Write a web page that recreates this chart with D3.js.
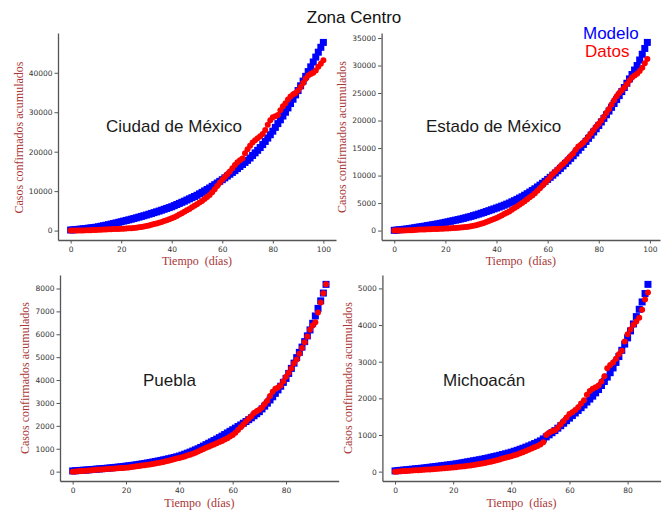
<!DOCTYPE html>
<html><head><meta charset="utf-8">
<script src="https://cdn.jsdelivr.net/npm/d3@7"></script>
<style>
html,body{margin:0;padding:0;background:#fff;}
svg{display:block;}
</style></head><body>
<svg id="chart" width="666" height="511"></svg>
<script>
// Casos confirmados acumulados por día: modelo ajustado vs. datos observados
const cdmxModelo = [
  150,200,260,320,380,450,530,610,690,770,
  850,970,1100,1230,1360,1500,1650,1800,1950,2100,
  2250,2410,2570,2730,2890,3050,3230,3410,3590,3770,
  3950,4150,4350,4550,4750,4950,5170,5390,5610,5830,
  6050,6330,6610,6890,7170,7450,7750,8050,8350,8650,
  8950,9320,9690,10060,10430,10800,11220,11640,12060,12480,
  12900,13360,13820,14280,14740,15200,15720,16240,16760,17280,
  17800,18400,19050,19700,20350,21050,21800,22600,23450,24300,
  25200,26160,27120,28080,29040,30000,31100,32200,33300,34400,
  35500,36700,37900,39100,40300,41500,42740,43980,45220,46460,
  47700];
const cdmxDatos = [
  0,5,10,20,30,45,60,80,100,130,
  170,200,230,260,290,320,350,380,400,420,
  440,480,520,570,620,680,750,830,920,1040,
  1180,1320,1480,1650,1820,2000,2200,2400,2620,2850,
  3100,3400,3700,4050,4400,4800,5150,5500,5900,6300,
  6700,7100,7500,8000,8500,9000,9700,10500,11300,12100,
  12900,13600,14300,15000,15800,16600,17300,17800,18300,19600,
  20600,21500,22300,22900,23400,23900,24500,25500,26800,28000,
  28700,29000,29300,30500,31500,32300,33200,34000,34500,34900,
  35500,36400,37400,38500,39300,39700,40000,40600,41500,42300,
  43200];

const edomexModelo = [
  50,100,150,200,250,300,370,440,520,600,
  670,740,820,900,980,1060,1140,1220,1310,1400,
  1500,1600,1700,1800,1900,2000,2110,2220,2340,2460,
  2580,2720,2860,3000,3150,3300,3460,3620,3780,3940,
  4100,4270,4440,4620,4810,5000,5220,5440,5670,5910,
  6150,6430,6710,7000,7300,7600,7930,8260,8600,8950,
  9300,9680,10070,10470,10880,11300,11750,12200,12660,13130,
  13600,14100,14610,15130,15660,16200,16770,17340,17920,18510,
  19100,19740,20390,21050,21720,22400,23100,23810,24530,25260,
  26000,26780,27570,28370,29180,30000,31000,32050,33100,34200];
const edomexDatos = [
  0,5,10,20,30,45,60,80,110,140,
  180,200,220,240,260,270,290,300,320,340,
  360,390,420,450,490,530,570,610,660,720,
  780,880,990,1120,1250,1400,1560,1740,1930,2100,
  2290,2500,2750,3000,3250,3490,3800,4100,4400,4700,
  5000,5350,5700,6050,6400,6800,7250,7700,8200,8700,
  9200,9750,10300,10750,11200,11700,12100,12550,13050,13550,
  14000,14700,15300,15600,16000,16500,17100,17700,18300,18900,
  19400,20000,20700,21400,22100,22900,23700,24400,25000,25500,
  26000,26600,27300,27800,28200,28500,29000,29600,30400,31200];

const pueblaModelo = [
  30,38,46,54,62,70,80,90,100,110,
  120,130,140,150,162,174,186,198,210,225,
  240,255,270,285,302,320,338,357,377,398,
  420,442,465,488,512,537,563,590,618,648,
  680,720,762,806,852,900,950,1000,1055,1115,
  1180,1240,1300,1360,1420,1485,1550,1620,1690,1760,
  1830,1900,1970,2040,2115,2190,2270,2350,2440,2530,
  2620,2740,2860,2990,3130,3270,3420,3570,3730,3900,
  4070,4290,4510,4740,4980,5210,5440,5680,5930,6190,
  6480,6800,7130,7460,7800,8180];
const pueblaDatos = [
  0,8,16,24,32,40,50,60,70,80,
  90,98,106,114,122,130,138,146,154,162,
  170,185,200,215,232,250,265,280,297,313,
  330,352,375,400,425,450,480,510,540,570,
  600,630,665,700,740,780,830,880,930,985,
  1040,1090,1140,1190,1240,1290,1340,1400,1460,1530,
  1600,1700,1820,1940,2060,2190,2310,2420,2560,2640,
  2700,2800,2950,3100,3300,3490,3620,3680,3760,3950,
  4140,4320,4520,4730,4900,5150,5400,5650,5900,6200,
  6380,6520,6950,7390,7790,8180];

const michModelo = [
  20,28,36,44,52,60,68,76,84,92,
  100,110,120,130,140,150,160,170,180,190,
  200,213,226,240,254,268,282,296,310,325,
  340,357,374,392,410,428,447,467,487,508,
  530,556,582,610,638,668,700,732,766,802,
  840,893,948,1004,1062,1120,1186,1253,1320,1390,
  1460,1530,1600,1670,1745,1820,1900,1980,2060,2150,
  2240,2350,2460,2580,2700,2830,2980,3140,3310,3480,
  3650,3840,4030,4230,4430,4630,4860,5110];
const michDatos = [
  0,5,10,15,20,25,30,35,40,45,
  50,55,60,66,72,78,84,90,96,103,
  110,120,130,140,150,160,170,182,194,207,
  220,236,254,272,292,312,334,356,378,400,
  420,445,470,500,530,560,595,630,665,700,
  740,800,1000,1060,1100,1130,1200,1290,1380,1480,
  1570,1620,1680,1760,1860,1950,2100,2200,2260,2300,
  2350,2460,2600,2820,2910,2980,3080,3200,3300,3550,
  3750,3880,4010,4100,4200,4420,4700,4890];

const yTicksCdmx = [0,10000,20000,30000,40000];
const yTicksEdomex = [0,5000,10000,15000,20000,25000,30000,35000];
const yTicksPuebla = [0,1000,2000,3000,4000,5000,6000,7000,8000];
const yTicksMich = [0,1000,2000,3000,4000,5000];
const xTicksTop = [0,20,40,60,80,100];
const xTicksBottom = [0,20,40,60,80];

const titulo = "Zona Centro";
const etiquetaY = "Casos confirmados acumulados";
const etiquetaX = "Tiempo  (días)";
const leyenda = ["Modelo", "Datos"];
const estados = ["Ciudad de México", "Estado de México", "Puebla", "Michoacán"];

const colorModelo = "#0000ff";
const colorDatos = "#ff0000";
const colorEtiqueta = "#a83636";
const colorEje = "#555";

// Layout of the 2x2 grid (pixel boxes of each axes area)
const panels = [
  {name: estados[0], modelo: cdmxModelo, datos: cdmxDatos, yTicks: yTicksCdmx, xTicks: xTicksTop,
   left: 58, right: 336, top: 33, bottom: 240, nameX: 106, nameY: 132, ylabX: 23, ylabY: 137.5, xlabY: 265},
  {name: estados[1], modelo: edomexModelo, datos: edomexDatos, yTicks: yTicksEdomex, xTicks: xTicksTop,
   left: 381.6, right: 660, top: 33, bottom: 240, nameX: 426, nameY: 132, ylabX: 346, ylabY: 137, xlabY: 265},
  {name: estados[2], modelo: pueblaModelo, datos: pueblaDatos, yTicks: yTicksPuebla, xTicks: xTicksBottom,
   left: 60, right: 338.7, top: 275, bottom: 481, nameX: 143, nameY: 386, ylabX: 29, ylabY: 378, xlabY: 507},
  {name: estados[3], modelo: michModelo, datos: michDatos, yTicks: yTicksMich, xTicks: xTicksBottom,
   left: 382.4, right: 660.6, top: 275, bottom: 481, nameX: 443, nameY: 386, ylabX: 352, ylabY: 378, xlabY: 507}
];

const svg = d3.select("#chart");

svg.append("text")
  .attr("x", 354).attr("y", 23)
  .attr("text-anchor", "middle")
  .attr("font-family", "Liberation Sans, Arial, sans-serif")
  .attr("font-size", 17)
  .attr("fill", "#111")
  .text(titulo);

panels.forEach(p => {
  const n = p.modelo.length;
  const xMax = n - 1;
  const all = p.modelo.concat(p.datos);
  const yMin = d3.min(all), yMax = d3.max(all);
  const yPad = (yMax - yMin) * 0.05;

  const x = d3.scaleLinear().domain([-xMax * 0.05, xMax * 1.05]).range([p.left, p.right]);
  const y = d3.scaleLinear().domain([yMin - yPad, yMax + yPad]).range([p.bottom, p.top]);

  const g = svg.append("g");

  // series: model as squares, observed data as circles on top
  g.append("g").selectAll("rect").data(p.modelo).join("rect")
    .attr("x", (d, i) => x(i) - 3.5)
    .attr("y", d => y(d) - 3.5)
    .attr("width", 7).attr("height", 7)
    .attr("fill", colorModelo);

  g.append("g").selectAll("circle").data(p.datos).join("circle")
    .attr("cx", (d, i) => x(i))
    .attr("cy", d => y(d))
    .attr("r", 3)
    .attr("fill", colorDatos);

  const ax = g.append("g").attr("transform", `translate(0,${p.bottom})`)
    .call(d3.axisBottom(x).tickValues(p.xTicks).tickSize(3.5).tickSizeOuter(0).tickPadding(3).tickFormat(d3.format("d")));
  const ay = g.append("g").attr("transform", `translate(${p.left},0)`)
    .call(d3.axisLeft(y).tickValues(p.yTicks).tickSize(3.5).tickSizeOuter(0).tickPadding(2).tickFormat(d3.format("d")));

  [ax, ay].forEach(a => {
    a.select(".domain").attr("stroke", colorEje).attr("stroke-width", 1.3);
    a.selectAll(".tick line").attr("stroke", colorEje).attr("stroke-width", 1);
    a.selectAll(".tick text")
      .attr("fill", "#333")
      .attr("font-family", "DejaVu Sans, sans-serif")
      .attr("font-size", 7.5);
  });

  g.append("text")
    .attr("x", p.nameX).attr("y", p.nameY)
    .attr("font-family", "Liberation Sans, Arial, sans-serif")
    .attr("font-size", 17)
    .attr("fill", "#1a1a1a")
    .text(p.name);

  g.append("text")
    .attr("transform", `translate(${p.ylabX},${p.ylabY}) rotate(-90)`)
    .attr("text-anchor", "middle")
    .attr("font-family", "Liberation Serif, Times New Roman, serif")
    .attr("font-size", 12)
    .attr("fill", colorEtiqueta)
    .text(etiquetaY);

  g.append("text")
    .attr("x", (p.left + p.right) / 2).attr("y", p.xlabY)
    .attr("text-anchor", "middle")
    .attr("font-family", "Liberation Serif, Times New Roman, serif")
    .attr("font-size", 12)
    .attr("fill", colorEtiqueta)
    .style("white-space", "pre")
    .text(etiquetaX);
});

// legend in the upper right corner
svg.append("text")
  .attr("x", 583).attr("y", 38.5)
  .attr("font-family", "Liberation Sans, Arial, sans-serif")
  .attr("font-size", 17)
  .attr("fill", colorModelo)
  .text(leyenda[0]);
svg.append("text")
  .attr("x", 585).attr("y", 56.5)
  .attr("font-family", "Liberation Sans, Arial, sans-serif")
  .attr("font-size", 17)
  .attr("fill", colorDatos)
  .text(leyenda[1]);
</script>
</body></html>
